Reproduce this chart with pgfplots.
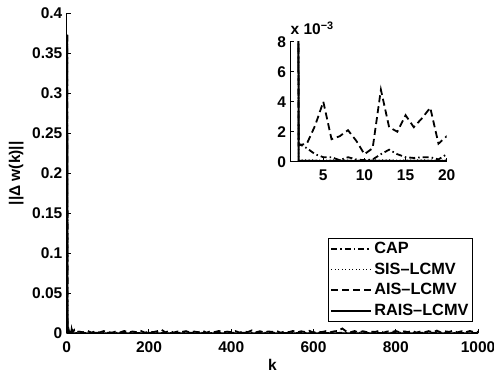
\documentclass[border=0pt]{standalone}
\usepackage{pgfplots}
\usepackage{pgfplotstable}
\pgfplotsset{compat=1.18}
\usepackage{fontspec}
\setmainfont{Liberation Sans}

\pgfplotstableread{
k y
1 0.373
2 0.0012
3 0.0009
4 0.0005
5 0.0003
6 0.0003
7 0.0001
8 0.0003
9 0.00015
10 0.0001
11 0.00015
12 0.0005
13 0.0008
14 0.0005
15 0.0003
16 0.00025
17 0.0003
18 0.0003
19 0.00015
20 0.0005
50 0.0004
100 0.0007
150 0.0003
200 0.0006
250 0.0004
300 0.0008
350 0.0003
400 0.0006
450 0.0005
500 0.0007
550 0.0003
600 0.0006
650 0.0004
700 0.0008
750 0.0003
800 0.0006
850 0.0005
900 0.0007
950 0.0004
1000 0.0005
}\capdata

\pgfplotstableread{
k y
1 0.373
2 0.0001
3 0.00012
4 0.0001
5 0.00008
6 0.0001
7 0.00012
8 0.0001
9 0.00009
10 0.0001
11 0.00011
12 0.0001
13 0.00012
14 0.0001
15 0.00009
16 0.0001
17 0.00011
18 0.0001
19 0.00009
20 0.0001
200 0.0001
400 0.0001
600 0.0001
800 0.0001
1000 0.0001
}\sisdata

\pgfplotstableread{
k y
1 0.373
2 0.0011
3 0.0012
4 0.0024
5 0.0040
6 0.0015
7 0.0017
8 0.0021
9 0.0014
10 0.0005
11 0.0009
12 0.0048
13 0.0023
14 0.0020
15 0.0031
16 0.0023
17 0.0029
18 0.0036
19 0.0012
20 0.0017
30 0.0021
40 0.0013
50 0.0032
60 0.0009
70 0.0025
80 0.0011
90 0.0028
100 0.0016
110 0.0007
120 0.0024
130 0.0012
140 0.0029
150 0.0010
160 0.0022
170 0.0015
180 0.0030
190 0.0008
200 0.0020
210 0.0014
220 0.0026
230 0.0045
240 0.0012
250 0.0031
260 0.0009
270 0.0023
280 0.0017
290 0.0027
300 0.0010
310 0.0022
320 0.0013
330 0.0033
340 0.0008
350 0.0025
360 0.0016
370 0.0029
380 0.0011
390 0.0021
400 0.0014
410 0.0028
420 0.0009
430 0.0024
440 0.0015
450 0.0036
460 0.0012
470 0.0026
480 0.0010
490 0.0023
500 0.0018
510 0.0030
520 0.0007
530 0.0022
540 0.0014
550 0.0029
560 0.0011
570 0.0025
580 0.0016
590 0.0031
600 0.0009
610 0.0020
620 0.0015
630 0.0027
640 0.0012
650 0.0024
660 0.0030
670 0.0060
680 0.0022
690 0.0013
700 0.0028
710 0.0010
720 0.0026
730 0.0014
740 0.0021
750 0.0017
760 0.0032
770 0.0008
780 0.0023
790 0.0015
800 0.0029
810 0.0011
820 0.0024
830 0.0016
840 0.0030
850 0.0009
860 0.0022
870 0.0014
880 0.0027
890 0.0012
900 0.0033
910 0.0010
920 0.0025
930 0.0018
940 0.0034
950 0.0011
960 0.0026
970 0.0013
980 0.0029
990 0.0015
1000 0.0020
}\aisdata

\pgfplotstableread{
k y
1 0.373
2 0.00005
3 0.00006
4 0.00005
5 0.00004
6 0.00005
7 0.00006
8 0.00005
9 0.00004
10 0.00005
11 0.00005
12 0.00006
13 0.00005
14 0.00004
15 0.00005
16 0.00005
17 0.00006
18 0.00005
19 0.00004
20 0.00005
200 0.00005
400 0.00005
600 0.00005
800 0.00005
1000 0.00005
}\raisdata

\tikzset{
  capstyle/.style={line width=1.8bp, dash pattern=on 6bp off 3bp on 1.5bp off 3bp},
  sisstyle/.style={line width=1.3bp, dash pattern=on 1bp off 2.5bp},
  aisstyle/.style={line width=1.8bp, dash pattern=on 7bp off 4bp},
  raisstyle/.style={line width=2bp},
}
\newcommand{\bfont}{\fontsize{15.5bp}{18bp}\selectfont\bfseries}
\newcommand{\lfont}{\fontsize{16.3bp}{18bp}\selectfont\bfseries}

\begin{document}
\bfont
\begin{tikzpicture}
\path[use as bounding box] (0,0) rectangle (494bp,374bp);
\begin{axis}[
  at={(66.7bp,40.7bp)}, anchor=south west,
  width=411.3bp, height=320bp, scale only axis,
  axis lines*=left,
  axis line style={line width=1pt},
  xmin=0, xmax=1000, ymin=0, ymax=0.4,
  xtick={0,200,...,1000},
  ytick={0,0.05,0.1,0.15,0.2,0.25,0.3,0.35,0.4},
  yticklabels={0,0.05,0.1,0.15,0.2,0.25,0.3,0.35,0.4},
  /pgf/number format/1000 sep={},
  tick style={line width=1pt, black},
  major tick length=4bp,
  tick align=inside,
  /pgf/number format/assume math mode=true,
  ticklabel style={font=\bfont},
  xticklabel style={yshift=-3bp},
  yticklabel style={xshift=1bp},
  xlabel={k},
  ylabel={||Δ w(k)||},
  label style={font=\bfont},
  xlabel style={yshift=4bp},
  ylabel style={yshift=-2bp},
  legend cell align=left,
  legend style={at={(0.987,0.036)}, anchor=south east, draw=black,
    font=\lfont, inner xsep=2bp, inner ysep=2bp,
    row sep=2.8bp},
  legend image code/.code={\draw[#1] (0bp,0bp) -- (40bp,0bp);},
]
\addplot[capstyle] table[x=k,y=y] {\capdata};
\addlegendentry{CAP}
\addplot[sisstyle] table[x=k,y=y] {\sisdata};
\addlegendentry{SIS–LCMV}
\addplot[aisstyle] table[x=k,y=y] {\aisdata};
\addlegendentry{AIS–LCMV}
\addplot[raisstyle] table[x=k,y=y] {\raisdata};
\addlegendentry{RAIS–LCMV}
\end{axis}
\begin{axis}[
  name=inset,
  at={(290.4bp,212.3bp)}, anchor=south west,
  width=156.3bp, height=120bp, scale only axis,
  axis lines*=left,
  axis line style={line width=1pt},
  xmin=1, xmax=20, ymin=0, ymax=8,
  xtick={5,10,15,20},
  ytick={0,2,4,6,8},
  tick style={line width=1pt, black},
  major tick length=4bp,
  tick align=inside,
  /pgf/number format/assume math mode=true,
  ticklabel style={font=\bfont},
  xticklabel style={yshift=-3bp},
  yticklabel style={xshift=1bp},
]
\addplot[capstyle] table[x=k,y expr=\thisrow{y}*1000] {\capdata};
\addplot[sisstyle] table[x=k,y expr=\thisrow{y}*1000] {\sisdata};
\addplot[aisstyle] table[x=k,y expr=\thisrow{y}*1000] {\aisdata};
\addplot[raisstyle] table[x=k,y expr=\thisrow{y}*1000] {\raisdata};
\end{axis}
\node[anchor=base west, inner sep=0pt] at ([yshift=7bp]inset.north west)
  {x 10\textsuperscript{−3}};
\end{tikzpicture}
\end{document}
